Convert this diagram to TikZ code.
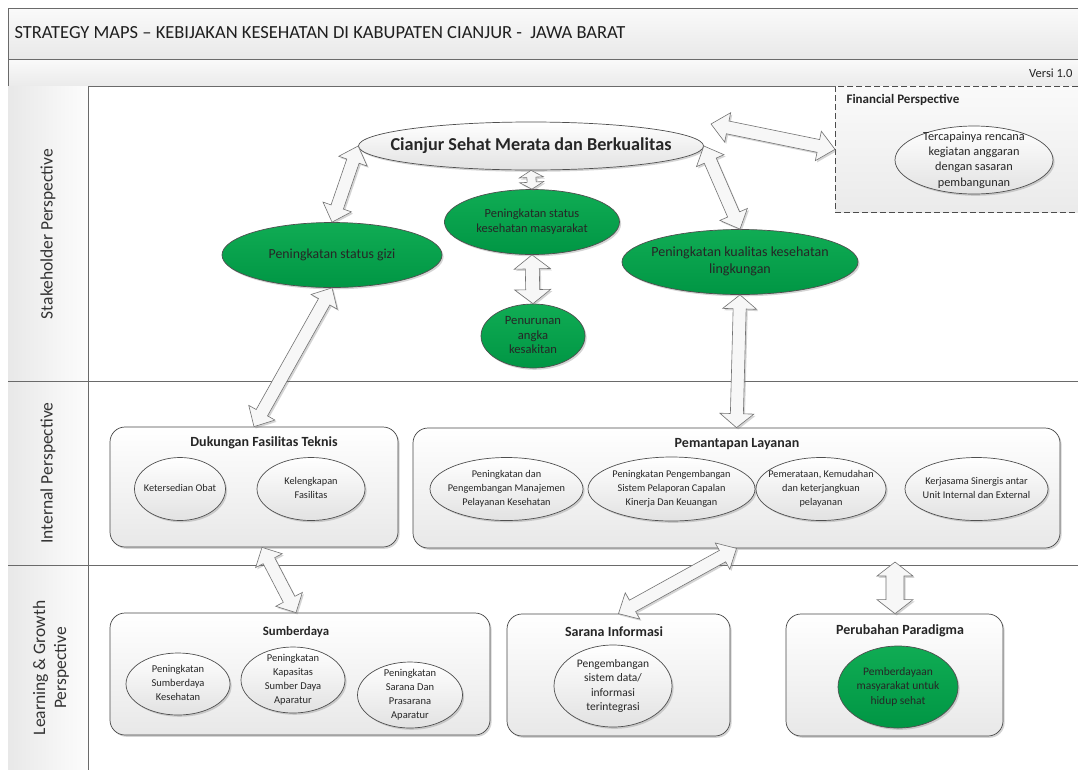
\documentclass[tikz,border=0pt]{standalone}
\usepackage{fontspec}
\setmainfont{Carlito}
\usetikzlibrary{shapes.geometric,shadows,calc}

\definecolor{frame}{HTML}{6A6A6A}
\definecolor{edge}{HTML}{4F4F4F}
\definecolor{greenTop}{RGB}{16,172,84}
\definecolor{greenBot}{RGB}{0,150,68}
\definecolor{paleBot}{HTML}{E2E2E2}

% text of an oval that does not widen the oval
\newcommand\ovl[1]{\smash{\makebox[0pt]{\raisebox{-0.25em}{\begin{tabular}{@{}c@{}}#1\end{tabular}}}}}

% double-headed block arrow: from, to, shaft half width, head half width, head length
\newcommand\dblarrow[5]{%
  \path (#1) coordinate (daA) (#2) coordinate (daB);%
  \pgfpointdiff{\pgfpointanchor{daA}{center}}{\pgfpointanchor{daB}{center}}%
  \pgfgetlastxy{\daDX}{\daDY}%
  \pgfmathsetmacro\daAng{atan2(\daDY,\daDX)}%
  \pgfmathsetmacro\daLen{veclen(\daDX,\daDY)}%
  \begin{scope}[shift={(daA)},rotate=\daAng,x=1pt,y=1pt]
    \draw[blockarrow] (0,0) -- (#5,#4) -- (#5,#3) -- ({\daLen-#5},#3) -- ({\daLen-#5},#4)
      -- (\daLen,0) -- ({\daLen-#5},-#4) -- ({\daLen-#5},-#3) -- (#5,-#3) -- (#5,-#4) -- cycle;
  \end{scope}}

\tikzset{
  softshadow/.style={drop shadow={shadow xshift=1.6pt,shadow yshift=-1.8pt,opacity=0.3,fill=black!55}},
  oval/.style={ellipse, draw=edge, line width=0.7pt, inner sep=0pt, text=black!85,
    font=\fontsize{10.5}{14}\selectfont},
  whiteoval/.style={oval, top color=white, bottom color=paleBot, softshadow},
  greenoval/.style={oval, top color=greenTop, bottom color=greenBot, softshadow},
  groupbox/.style={draw=black!72, line width=0.7pt, rounded corners=15pt, inner sep=0pt,
    top color=white, bottom color=black!9, softshadow},
  grouptitle/.style={font=\bfseries\fontsize{14}{16}\selectfont, text=black!85},
  lanelabel/.style={rotate=90, align=center, font=\fontsize{17.5}{21}\selectfont, text=black!80},
  frameline/.style={draw=frame, line width=0.8pt},
  blockarrow/.style={draw=black!55, line width=0.6pt, fill=black!3, softshadow},
}

\begin{document}
\begin{tikzpicture}[x=1pt,y=-1pt]
\useasboundingbox (0,0) rectangle (1078,769);
\clip (0,0) rectangle (1078,769);
\fill[white] (0,0) rectangle (1078,769);

% header bands
\shade[top color=black!2, bottom color=black!9] (8,8) rectangle (1100,59);
\shade[top color=black!2, bottom color=black!8] (8,59) rectangle (1100,86);
\draw[frameline] (1100,8) -- (8,8) -- (8,780);
\draw[frameline] (8,59) -- (1100,59);
\draw[frameline] (8,86) -- (1100,86);
\node[anchor=west, font=\fontsize{18.5}{21}\selectfont, text=black!88] (title) at (11,33)
  {STRATEGY MAPS – KEBIJAKAN KESEHATAN DI KABUPATEN CIANJUR -\ \ JAWA BARAT};
\node[anchor=east, font=\fontsize{12.5}{14}\selectfont, text=black!85] (versi) at (1076,73) {Versi 1.0};

% lane headers
\shade[left color=black!9, right color=black!1] (8,86) rectangle (88,780);
\draw[frameline] (88,86) -- (88,780);
\draw[frameline] (8,381) -- (1100,381);
\draw[frameline] (8,565) -- (1100,565);
\node[lanelabel] (laneS) at (48,234) {Stakeholder Perspective};
\node[lanelabel] (laneI) at (48,473) {Internal Perspective};
\node[lanelabel] (laneL) at (51,668) {Learning \& Growth\\Perspective};

% financial perspective
\node[draw=black!70, dashed, dash pattern=on 6pt off 3pt, line width=0.7pt, inner sep=0pt,
  top color=black!2, bottom color=black!8, minimum width=270pt, minimum height=126pt,
  anchor=north west] (fin) at (835,86) {};
\node[anchor=west, font=\bfseries\fontsize{13}{15}\selectfont, text=black!85] (finT) at (843,100) {Financial Perspective};
\node[whiteoval, minimum width=158pt, minimum height=68pt, font=\fontsize{12.3}{15.3}\selectfont] (finE) at (974,160)
  {\ovl{Tercapainya rencana\\kegiatan anggaran\\dengan sasaran\\pembangunan}};

% stakeholder objectives
\node[whiteoval, minimum width=345pt, minimum height=48pt, font=\bfseries\fontsize{18.2}{21}\selectfont] (goal) at (531,146)
  {\ovl{Cianjur Sehat Merata dan Berkualitas}};
\node[greenoval, minimum width=220pt, minimum height=65pt, font=\fontsize{13.8}{16}\selectfont] (gizi) at (332,255)
  {\ovl{Peningkatan status gizi}};
\node[greenoval, minimum width=175pt, minimum height=65pt, font=\fontsize{12.4}{14.5}\selectfont] (kesmas) at (532,222)
  {\ovl{Peningkatan status\\kesehatan masyarakat}};
\node[greenoval, minimum width=104pt, minimum height=64pt, font=\fontsize{12.6}{14.5}\selectfont] (sakit) at (533,336)
  {\ovl{Penurunan\\angka\\kesakitan}};
\node[greenoval, minimum width=236pt, minimum height=65pt, font=\fontsize{14}{16.5}\selectfont] (ling) at (740,262)
  {\ovl{Peningkatan kualitas kesehatan\\lingkungan}};

% internal perspective
\node[groupbox, minimum width=288pt, minimum height=120pt] (duk) at (254,487) {};
\node[grouptitle] (dukT) at (264,443) {Dukungan Fasilitas Teknis};
\node[whiteoval, minimum width=91pt, minimum height=63pt, font=\fontsize{10.3}{14}\selectfont] (obat) at (180,489) {\ovl{Ketersedian Obat}};
\node[whiteoval, minimum width=108pt, minimum height=63pt, font=\fontsize{10.3}{14}\selectfont] (fasil) at (311,489) {\ovl{Kelengkapan\\Fasilitas}};

\node[groupbox, minimum width=647pt, minimum height=120pt] (pem) at (736.5,488) {};
\node[grouptitle] (pemT) at (737,444) {Pemantapan Layanan};
\node[whiteoval, minimum width=153pt, minimum height=63pt, font=\fontsize{10.3}{14}\selectfont] (p1) at (506.5,489)
  {\ovl{Peningkatan dan\\Pengembangan Manajemen\\Pelayanan Kesehatan}};
\node[whiteoval, minimum width=167pt, minimum height=64pt, font=\fontsize{10.3}{14}\selectfont] (p2) at (671.5,489)
  {\ovl{Peningkatan Pengembangan\\Sistem Pelaporan Capalan\\Kinerja Dan Keuangan}};
\node[whiteoval, minimum width=130pt, minimum height=63pt, font=\fontsize{10.3}{14}\selectfont] (p3) at (821,489)
  {\ovl{Pemerataan, Kemudahan\\dan keterjangkuan\\pelayanan}};
\node[whiteoval, minimum width=143pt, minimum height=63pt, font=\fontsize{10.3}{14}\selectfont] (p4) at (976.5,489)
  {\ovl{Kerjasama Sinergis antar\\Unit Internal dan External}};

% learning and growth perspective
\node[groupbox, minimum width=380pt, minimum height=122pt] (sdm) at (300,674) {};
\node[grouptitle, font=\bfseries\fontsize{12.8}{15}\selectfont] (sdmT) at (296,632) {Sumberdaya};
\node[whiteoval, minimum width=104pt, minimum height=62pt] (s1) at (178,684)
  {\ovl{Peningkatan\\Sumberdaya\\Kesehatan}};
\node[whiteoval, minimum width=104pt, minimum height=66pt] (s2) at (293,680)
  {\ovl{Peningkatan\\Kapasitas\\Sumber Daya\\Aparatur}};
\node[whiteoval, minimum width=105pt, minimum height=66pt] (s3) at (410,695)
  {\ovl{Peningkatan\\Sarana Dan\\Prasarana\\Aparatur}};

\node[groupbox, minimum width=223pt, minimum height=122pt] (sar) at (618.5,675) {};
\node[grouptitle] (sarT) at (614,632) {Sarana Informasi};
\node[whiteoval, minimum width=118pt, minimum height=82pt, font=\fontsize{11.5}{14.5}\selectfont] (sarE) at (613,686)
  {\ovl{Pengembangan\\sistem data/\\informasi\\terintegrasi}};

\node[groupbox, minimum width=217pt, minimum height=122pt] (per) at (894.5,675) {};
\node[grouptitle] (perT) at (900,631) {Perubahan Paradigma};
\node[greenoval, minimum width=120pt, minimum height=82pt, font=\fontsize{11.5}{14.5}\selectfont] (perE) at (898,687)
  {\ovl{Pemberdayaan\\masyarakat untuk\\hidup sehat}};

% connectors between objectives
\coordinate (goalNE) at (711,124);
\coordinate (perTop) at (895,562);
\dblarrow{goal.west}{gizi.north}{6.5}{15}{16}
\dblarrow{goal.east}{ling.north}{6.5}{15}{16}
\dblarrow{goal.south}{kesmas.north}{4.5}{12}{7}
\dblarrow{kesmas.south}{sakit.north}{7}{18}{14}
\dblarrow{goalNE}{fin.west}{6.5}{15}{17}
\dblarrow{gizi.south}{duk.north}{6.5}{15}{16}
\dblarrow{ling.south}{pem.north}{6.5}{17}{14}
\dblarrow{[xshift=8pt]duk.south}{[xshift=-4pt]sdm.north}{6.5}{15}{15}
\dblarrow{pem.south}{sar.north}{6.5}{15}{16}
\dblarrow{perTop}{[xshift=0.5pt]per.north}{9}{18}{14}
\end{tikzpicture}
\end{document}
